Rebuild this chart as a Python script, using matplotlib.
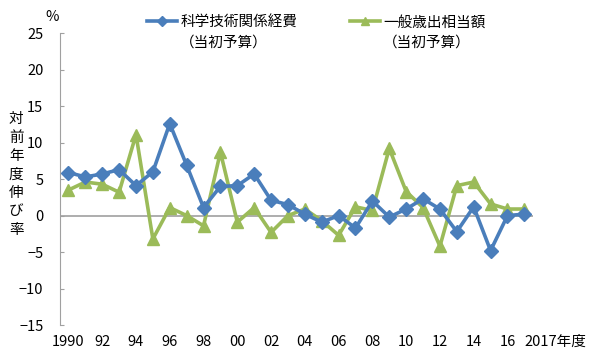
import matplotlib
matplotlib.use("Agg")
import matplotlib.pyplot as plt
from matplotlib.lines import Line2D

plt.rcParams['font.family'] = ['Noto Sans CJK JP', 'DejaVu Sans']

# 年度
years = list(range(1990, 2018))

# 科学技術関係経費（当初予算）対前年度伸び率 %
sci_tech = [5.9, 5.3, 5.7, 6.3, 4.1, 6.0, 12.6, 6.9, 1.1, 4.0,
            4.1, 5.7, 2.1, 1.5, 0.2, -0.9, 0.0, -1.7, 2.0, -0.2,
            0.9, 2.3, 0.9, -2.2, 1.2, -4.8, 0.0, 0.2]

# 一般歳出相当額（当初予算）対前年度伸び率 %
general = [3.5, 4.6, 4.3, 3.2, 11.1, -3.2, 1.1, 0.0, -1.4, 8.7,
           -0.9, 1.1, -2.3, 0.0, 0.9, -0.7, -2.7, 1.2, 0.7, 9.2,
           3.3, 1.1, -4.2, 4.1, 4.6, 1.6, 0.9, 0.9]

tick_years = list(range(1990, 2017, 2)) + [2017]
tick_labels = ["1990"] + ["%02d" % (y % 100) for y in range(1992, 2017, 2)] + ["2017年度"]

blue = "#4A7EBB"
green = "#9BBB59"

fig = plt.figure(figsize=(6, 3.6), dpi=100)
ax = fig.add_axes([0.1, 0.097, 0.788, 0.811])

ax.axhline(0, color="#A0A0A0", lw=1.2, zorder=1)
ax.plot(years, sci_tech, color=blue, lw=2.6, marker="D", markersize=7.5, zorder=3)
ax.plot(years, general, color=green, lw=2.6, marker="^", markersize=9, zorder=2)

ax.set_xlim(1989.5, 2017.5)
ax.set_ylim(-15, 25)
ax.set_yticks(range(-15, 26, 5))
ax.set_xticks(tick_years)
ax.set_xticklabels(tick_labels)
last = ax.get_xticklabels()[-1]
last.set_ha("left")
last.set_x(2016.85)

for s in ["top", "right", "bottom"]:
    ax.spines[s].set_visible(False)
ax.spines["left"].set_color("#A0A0A0")
ax.tick_params(axis="y", direction="in", length=3, color="#A0A0A0", labelsize=10.5, pad=12)
ax.tick_params(axis="x", length=0, labelsize=10.5, pad=7)

fig.text(0.087, 0.953, "%", fontsize=10.5, ha="center", va="center")
fig.text(0.027, 0.515, "\n".join("対前年度伸び率"), fontsize=10.5, ha="center", va="center",
         linespacing=1.4)

handles = [Line2D([], [], color=blue, lw=2.6, marker="D", markersize=5),
           Line2D([], [], color="none"),
           Line2D([], [], color=green, lw=2.6, marker="^", markersize=6),
           Line2D([], [], color="none")]
labels = ["科学技術関係経費", "（当初予算）", "一般歳出相当額", "（当初予算）"]
fig.legend(handles, labels, ncol=2, loc="upper left", bbox_to_anchor=(0.225, 0.99),
           frameon=False, fontsize=10.5, handlelength=2.1, handletextpad=0.2,
           columnspacing=3.6, labelspacing=0.45, borderpad=0.3)

plt.savefig("out.png", dpi=100)
plt.close()
